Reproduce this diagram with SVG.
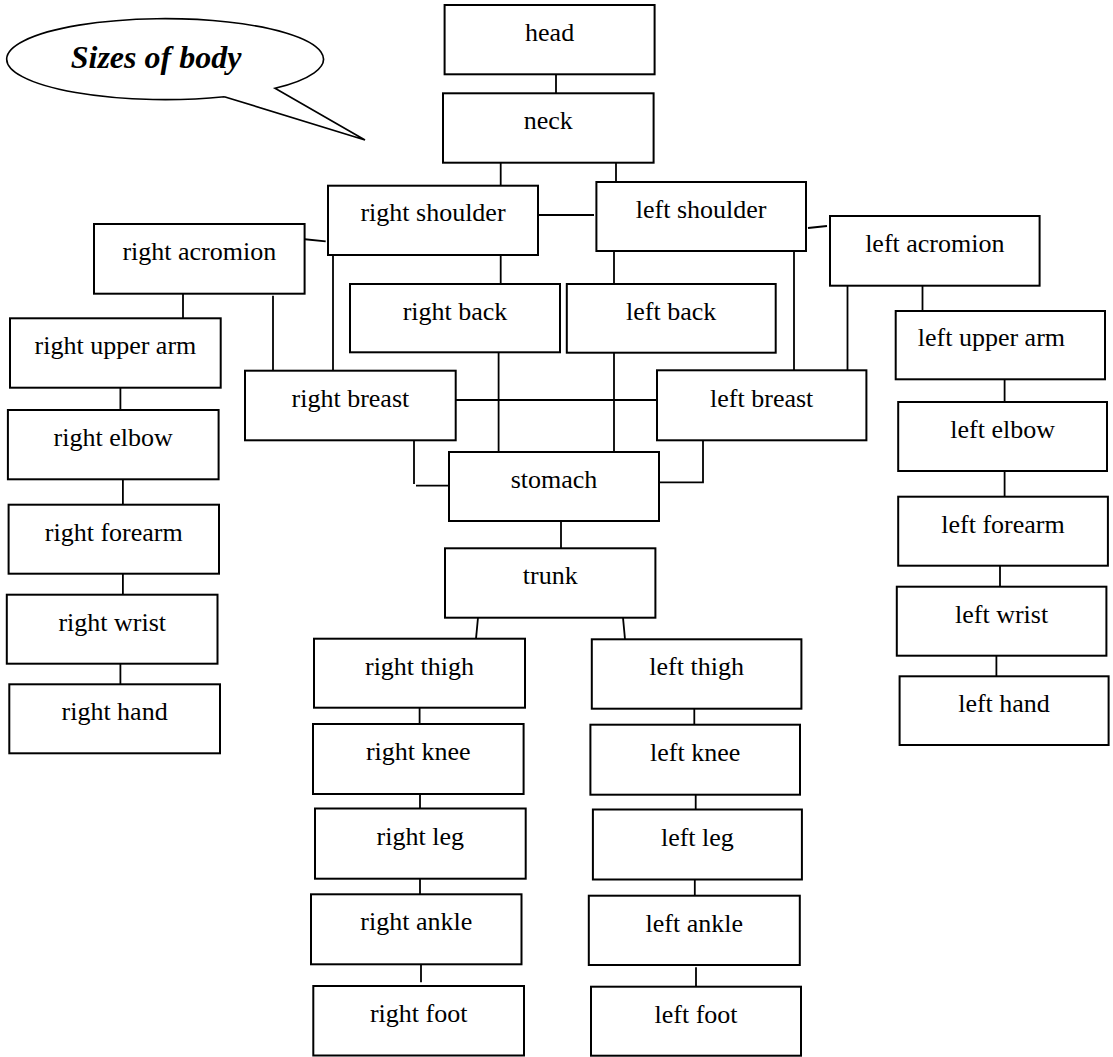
<svg xmlns="http://www.w3.org/2000/svg" width="1113" height="1057" viewBox="0 0 1113 1057">
<style>
.box{fill:#fff;stroke:#000;stroke-width:2}
.lbl{font-family:"Liberation Serif","Times New Roman",serif;font-size:26px;fill:#000;text-anchor:middle}
.con{fill:none;stroke:#000;stroke-width:1.8}
.title{font-family:"Liberation Serif","Times New Roman",serif;font-size:32px;font-weight:bold;font-style:italic;fill:#000}
</style>
<rect width="1113" height="1057" fill="#fff"/>
<g id="callout">
<path d="M224.3 96.7 L365 140 L275 88.3 A158.4 40.5 0 1 0 224.3 96.7" fill="#fff" stroke="#000" stroke-width="1.6"/>
<text class="title" x="70.7" y="68">Sizes of body</text>
</g>
<g id="connectors">
<path class="con" d="M556 74.3V93.3"/>
<path class="con" d="M500.7 162.7V185.7"/>
<path class="con" d="M616 162.7V182"/>
<path class="con" d="M538 215H594"/>
<path class="con" d="M808 228L827 226"/>
<path class="con" d="M302.5 239L325.7 241.3"/>
<path class="con" d="M333 255V370.7"/>
<path class="con" d="M500.7 255V284"/>
<path class="con" d="M183 293.7V318.3"/>
<path class="con" d="M273 295.7V370.7"/>
<path class="con" d="M614 251V284"/>
<path class="con" d="M794 251V370.3"/>
<path class="con" d="M847.5 285.7V370.3"/>
<path class="con" d="M922.5 284V311"/>
<path class="con" d="M455.7 400H657"/>
<path class="con" d="M498.6 352.3V452"/>
<path class="con" d="M614 352.7V452"/>
<path class="con" d="M414 440.3V484M416 485.7H449"/>
<path class="con" d="M703 440.3V482.3H659"/>
<path class="con" d="M561 521V548.3"/>
<path class="con" d="M478 617.7L476 638.7"/>
<path class="con" d="M623 617.7L625 639.3"/>
<path class="con" d="M419.6 706V724"/>
<path class="con" d="M420 794V808.5"/>
<path class="con" d="M420 878.7V894.3"/>
<path class="con" d="M421 963.3V982.3"/>
<path class="con" d="M694.3 708.7V724.7"/>
<path class="con" d="M695.7 794V809.5"/>
<path class="con" d="M694.8 879.5V895.7"/>
<path class="con" d="M696 967.3V986.7"/>
<path class="con" d="M1004.6 375.7V402"/>
<path class="con" d="M1004.6 471V496.7"/>
<path class="con" d="M1000 561V586.7"/>
<path class="con" d="M996.4 653V676.3"/>
<path class="con" d="M120.4 384.3V410"/>
<path class="con" d="M122.9 479.3V504.7"/>
<path class="con" d="M122.9 572.3V594.7"/>
<path class="con" d="M120.4 661.7V684.3"/>
</g>
<g id="head"><rect class="box" x="444.6" y="5" width="210" height="69.3"/><text class="lbl" x="549.6" y="41">head</text></g>
<g id="neck"><rect class="box" x="443" y="93.3" width="210.6" height="69.4"/><text class="lbl" x="548.3" y="129.3">neck</text></g>
<g id="right-shoulder"><rect class="box" x="328" y="185.7" width="210" height="69.3"/><text class="lbl" x="433" y="221">right shoulder</text></g>
<g id="left-shoulder"><rect class="box" x="596.4" y="182" width="209.6" height="69"/><text class="lbl" x="701.2" y="218">left shoulder</text></g>
<g id="right-acromion"><rect class="box" x="94" y="224" width="210.6" height="69.7"/><text class="lbl" x="199.3" y="259.5">right acromion</text></g>
<g id="left-acromion"><rect class="box" x="830" y="216" width="209.6" height="69.7"/><text class="lbl" x="934.8" y="251.7">left acromion</text></g>
<g id="right-back"><rect class="box" x="350" y="284" width="210" height="68.3"/><text class="lbl" x="455" y="319.5">right back</text></g>
<g id="left-back"><rect class="box" x="566.8" y="284" width="208.9" height="68.7"/><text class="lbl" x="671.2" y="319.5">left back</text></g>
<g id="right-upper-arm"><rect class="box" x="10" y="318.3" width="210.7" height="69.4"/><text class="lbl" x="115.4" y="353.5">right upper arm</text></g>
<g id="left-upper-arm"><rect class="box" x="895.7" y="311" width="209.3" height="68.3"/><text class="lbl" x="991.4" y="345.8">left upper arm</text></g>
<g id="right-breast"><rect class="box" x="245" y="370.7" width="210.7" height="69.6"/><text class="lbl" x="350.4" y="406.7">right breast</text></g>
<g id="left-breast"><rect class="box" x="657" y="370.3" width="209.4" height="70"/><text class="lbl" x="761.7" y="406.7">left breast</text></g>
<g id="right-elbow"><rect class="box" x="7.9" y="410" width="210.7" height="69.3"/><text class="lbl" x="113.2" y="446">right elbow</text></g>
<g id="left-elbow"><rect class="box" x="898.2" y="402" width="208.8" height="69"/><text class="lbl" x="1002.6" y="438">left elbow</text></g>
<g id="stomach"><rect class="box" x="449" y="452" width="210" height="69"/><text class="lbl" x="554" y="488">stomach</text></g>
<g id="right-forearm"><rect class="box" x="8.6" y="504.7" width="210.4" height="69"/><text class="lbl" x="113.8" y="540.7">right forearm</text></g>
<g id="left-forearm"><rect class="box" x="898.2" y="496.7" width="209.7" height="69"/><text class="lbl" x="1003" y="532.7">left forearm</text></g>
<g id="trunk"><rect class="box" x="445" y="548.3" width="210.4" height="69.4"/><text class="lbl" x="550.2" y="584.3">trunk</text></g>
<g id="right-wrist"><rect class="box" x="6.8" y="594.7" width="210.7" height="69"/><text class="lbl" x="112.2" y="630.7">right wrist</text></g>
<g id="left-wrist"><rect class="box" x="896.8" y="586.7" width="209.6" height="69"/><text class="lbl" x="1001.6" y="622.7">left wrist</text></g>
<g id="right-thigh"><rect class="box" x="314" y="638.7" width="211" height="69"/><text class="lbl" x="419.5" y="674.7">right thigh</text></g>
<g id="left-thigh"><rect class="box" x="591.8" y="639.3" width="209.6" height="69.4"/><text class="lbl" x="696.6" y="675.3">left thigh</text></g>
<g id="right-hand"><rect class="box" x="9.3" y="684.3" width="210.7" height="69"/><text class="lbl" x="114.6" y="720.3">right hand</text></g>
<g id="left-hand"><rect class="box" x="899.6" y="676.3" width="209" height="68.7"/><text class="lbl" x="1004" y="712.3">left hand</text></g>
<g id="right-knee"><rect class="box" x="313" y="724" width="210.6" height="70"/><text class="lbl" x="418.3" y="760">right knee</text></g>
<g id="left-knee"><rect class="box" x="590.4" y="724.7" width="209.6" height="70"/><text class="lbl" x="695.2" y="760.7">left knee</text></g>
<g id="right-leg"><rect class="box" x="315" y="808.5" width="210.7" height="70.2"/><text class="lbl" x="420.3" y="844.5">right leg</text></g>
<g id="left-leg"><rect class="box" x="592.9" y="809.5" width="209" height="70"/><text class="lbl" x="697.4" y="845.5">left leg</text></g>
<g id="right-ankle"><rect class="box" x="311" y="894.3" width="210.5" height="70"/><text class="lbl" x="416.3" y="930.3">right ankle</text></g>
<g id="left-ankle"><rect class="box" x="588.8" y="895.7" width="211" height="69.3"/><text class="lbl" x="694.3" y="931.7">left ankle</text></g>
<g id="right-foot"><rect class="box" x="313.3" y="986" width="210.7" height="69.5"/><text class="lbl" x="418.7" y="1022">right foot</text></g>
<g id="left-foot"><rect class="box" x="591" y="986.7" width="210" height="69"/><text class="lbl" x="696" y="1022.7">left foot</text></g>
</svg>
